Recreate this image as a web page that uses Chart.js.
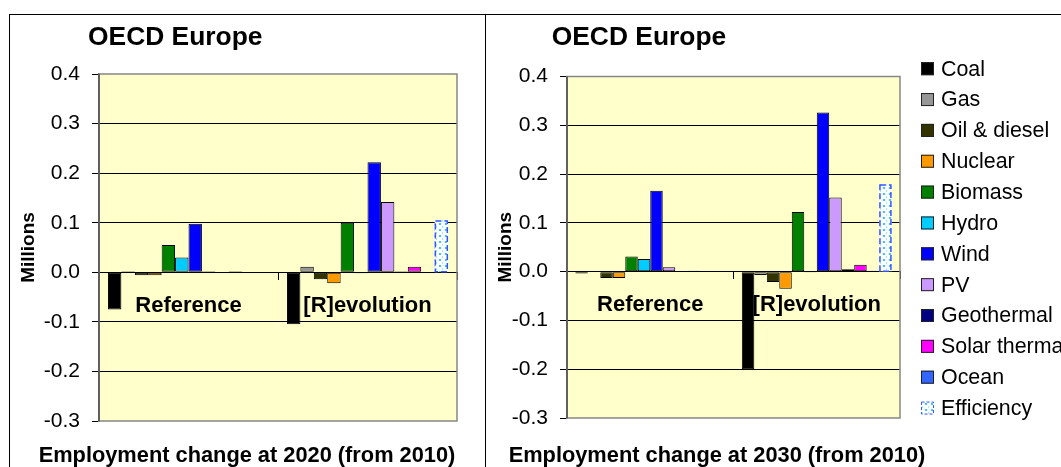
<!DOCTYPE html>
<html><head><meta charset="utf-8">
<script src="https://cdn.jsdelivr.net/npm/chart.js@4.4.1/dist/chart.umd.min.js"></script>
<style>
html,body{margin:0;padding:0;background:#fff;overflow:hidden;width:1061px;height:467px;}
.frame{position:absolute;box-sizing:border-box;}
#f1{left:9px;top:14px;width:477px;height:480px;border-left:1px solid #000;border-top:1px solid #000;border-right:1px solid #000;}
#f2{left:485px;top:14px;width:600px;height:480px;border-top:1px solid #000;}
canvas{position:absolute;top:0;}
#c1{left:0;}
#c2{left:486px;}
</style></head><body>
<div class="frame" id="f1"></div><div class="frame" id="f2"></div>
<canvas id="c1" width="486" height="467"></canvas>
<canvas id="c2" width="575" height="467"></canvas>
<script>
// ---- data ----
const categories = ['Reference', '[R]evolution'];
const seriesNames = ['Coal', 'Gas', 'Oil & diesel', 'Nuclear', 'Biomass', 'Hydro', 'Wind', 'PV', 'Geothermal', 'Solar thermal', 'Ocean', 'Efficiency'];
// values in millions of jobs, one entry per series (same order as seriesNames)
const ref2020 = [-0.075, 0.002, -0.006, -0.006, 0.055, 0.030, 0.098, 0.002, 0.000, 0.002, 0.000, 0.000];
const rev2020 = [-0.105, 0.011, -0.014, -0.022, 0.100, -0.002, 0.222, 0.142, 0.002, 0.011, 0.000, 0.105];
const ref2030 = [-0.004, 0.000, -0.013, -0.013, 0.031, 0.026, 0.166, 0.009, 0.000, 0.002, 0.000, 0.000];
const rev2030 = [-0.200, -0.007, -0.021, -0.035, 0.122, -0.002, 0.326, 0.152, 0.005, 0.014, 0.002, 0.179];
const yTickValues = [-0.3, -0.2, -0.1, 0.0, 0.1, 0.2, 0.3, 0.4];
const chartTitle = 'OECD Europe';
const yTitle = 'Millions';
const xTitle2020 = 'Employment change at 2020 (from 2010)';
const xTitle2030 = 'Employment change at 2030 (from 2010)';

// ---- styles ----
const seriesColors = ['#000000', '#969696', '#333300', '#FF9900', '#008000', '#00CCFF', '#0000FF', '#CC99FF', '#000080', '#FF00FF', '#3366FF', null];
const FONT = '"Liberation Sans", Arial, sans-serif';
Chart.defaults.font.family = FONT;
Chart.defaults.color = '#000';

function dotPattern() {
  const c = document.createElement('canvas');
  c.width = 6; c.height = 6;
  const g = c.getContext('2d');
  g.fillStyle = '#FFFFFF'; g.fillRect(0, 0, 6, 6);
  g.fillStyle = '#33CCFF'; g.fillRect(1, 1, 2, 2);
  g.fillStyle = '#A8E8FF'; g.fillRect(4, 4, 1, 2);
  return g.createPattern(c, 'repeat');
}
const effPattern = dotPattern();

function makeDatasets(refVals, revVals) {
  return seriesNames.map((name, i) => {
    const eff = seriesColors[i] === null;
    return {
      label: name,
      data: [refVals[i], revVals[i]],
      backgroundColor: eff ? effPattern : seriesColors[i],
      borderColor: '#000',
      borderWidth: eff ? 0 : 1,
      borderSkipped: false,
      dashedBorder: eff,
      categoryPercentage: 0.9,
      barPercentage: 1.0
    };
  });
}

const yMin = yTickValues[0], yMax = yTickValues[yTickValues.length - 1];
function fmt(v) { const r = Math.round(v * 10) / 10; return (r === 0 ? 0 : r).toFixed(1); }

const plotFrame = {
  id: 'plotFrame',
  beforeDraw(chart) {
    const {ctx, chartArea: a} = chart;
    ctx.save();
    ctx.fillStyle = '#FFFFCC';
    ctx.fillRect(a.left, a.top, a.right - a.left, a.bottom - a.top);
    ctx.restore();
  },
  afterDraw(chart) {
    const {ctx, chartArea: a} = chart;
    ctx.save();
    ctx.strokeStyle = '#868686'; ctx.lineWidth = 1.5;
    ctx.strokeRect(a.left, a.top, a.right - a.left, a.bottom - a.top);
    ctx.strokeStyle = '#555'; ctx.beginPath(); ctx.moveTo(a.left, a.top); ctx.lineTo(a.left, a.bottom); ctx.stroke();
    ctx.restore();
  }
};

const dashedBars = {
  id: 'dashedBars',
  afterDatasetsDraw(chart) {
    const ctx = chart.ctx;
    chart.data.datasets.forEach((ds, i) => {
      if (!ds.dashedBorder) return;
      chart.getDatasetMeta(i).data.forEach(bar => {
        const p = bar.getProps(['x', 'y', 'base', 'width'], true);
        if (Math.abs(p.y - p.base) < 0.5) return;
        ctx.save();
        ctx.setLineDash([6, 3]);
        ctx.strokeStyle = '#3355FF'; ctx.lineWidth = 1.5;
        ctx.strokeRect(p.x - p.width / 2 + 0.75, Math.min(p.y, p.base) + 0.75, p.width - 1.5, Math.abs(p.base - p.y) - 0.75);
        ctx.restore();
      });
    });
  }
};

const panelText = {
  id: 'panelText',
  afterDraw(chart, args, o) {
    const ctx = chart.ctx;
    ctx.save();
    ctx.fillStyle = '#000'; ctx.textBaseline = 'alphabetic';
    ctx.font = 'bold 26.4px ' + FONT; ctx.textAlign = 'left';
    ctx.fillText(o.title, o.titleX, o.titleY);
    ctx.font = 'bold 21.8px ' + FONT; ctx.textAlign = 'center';
    ctx.fillText(o.xTitle, o.xTitleX, o.xTitleY);
    ctx.restore();
  }
};

const sideLegend = {
  id: 'sideLegend',
  afterDraw(chart, args, o) {
    if (!o.show) return;
    const ctx = chart.ctx;
    ctx.save();
    ctx.font = '21.4px ' + FONT; ctx.textBaseline = 'middle'; ctx.textAlign = 'left';
    chart.data.datasets.forEach((ds, i) => {
      const cy = o.top + i * o.step, s = o.box, bx = o.left, by = cy - s / 2;
      ctx.fillStyle = ds.backgroundColor; ctx.fillRect(bx, by, s, s);
      if (ds.dashedBorder) {
        ctx.setLineDash([3, 2]); ctx.strokeStyle = '#3355FF'; ctx.lineWidth = 1;
      } else {
        ctx.setLineDash([]); ctx.strokeStyle = '#222'; ctx.lineWidth = 1;
      }
      ctx.strokeRect(bx + 0.5, by + 0.5, s - 1, s - 1);
      ctx.setLineDash([]);
      ctx.fillStyle = '#000';
      ctx.fillText(ds.label, o.textX, cy + 1);
    });
    ctx.restore();
  }
};

function makeChart(id, refVals, revVals, geo) {
  return new Chart(document.getElementById(id), {
    type: 'bar',
    data: { labels: categories, datasets: makeDatasets(refVals, revVals) },
    plugins: [plotFrame, dashedBars, panelText, sideLegend],
    options: {
      responsive: false, animation: false, devicePixelRatio: 1, events: [],
      layout: { padding: geo.padding },
      plugins: {
        legend: { display: false }, tooltip: { enabled: false },
        panelText: geo.text,
        sideLegend: geo.legend
      },
      scales: {
        x: {
          position: { y: 0 },
          offset: true,
          grid: { display: true, offset: true, drawOnChartArea: false, drawTicks: true, tickLength: 7, color: '#000', lineWidth: 1 },
          border: { display: true, color: '#000', width: 1 },
          ticks: { font: { size: 22, weight: 'bold' }, color: '#000', padding: 13, maxRotation: 0, autoSkip: false },
          afterFit: s => { s.height = 0; }
        },
        y: {
          min: yMin, max: yMax,
          afterBuildTicks: s => { s.ticks = yTickValues.map(v => ({ value: v })); },
          ticks: { font: { size: 21 }, color: '#000', padding: 12, callback: v => fmt(v) },
          grid: {
            color: c => (c.tick && (Math.abs(c.tick.value - yMax) < 1e-9 || Math.abs(c.tick.value - yMin) < 1e-9)) ? 'rgba(0,0,0,0)' : '#000',
            tickColor: '#000', tickLength: 7, lineWidth: 1
          },
          border: { display: true, color: '#555', width: 1.5 },
          title: { display: true, text: yTitle, font: { size: 19, weight: 'bold' }, color: '#000', padding: { top: geo.yTitlePad, bottom: 0 } },
          afterFit: s => { s.width = geo.yWidth; }
        }
      }
    }
  });
}

makeChart('c1', ref2020, rev2020, {
  padding: { left: 0, top: 74, right: 29, bottom: 46 },
  yWidth: 99, yTitlePad: 17.5,
  text: { title: chartTitle, titleX: 88, titleY: 45, xTitle: xTitle2020, xTitleX: 247, xTitleY: 462 },
  legend: { show: false }
});
makeChart('c2', ref2030, rev2030, {
  padding: { left: 0, top: 76.5, right: 161, bottom: 49 },
  yWidth: 81, yTitlePad: 8.5,
  text: { title: chartTitle, titleX: 65.7, titleY: 45, xTitle: xTitle2030, xTitleX: 231, xTitleY: 462 },
  legend: { show: true, left: 435, top: 68.7, step: 30.85, box: 13, textX: 455 }
});
</script>
</body></html>
